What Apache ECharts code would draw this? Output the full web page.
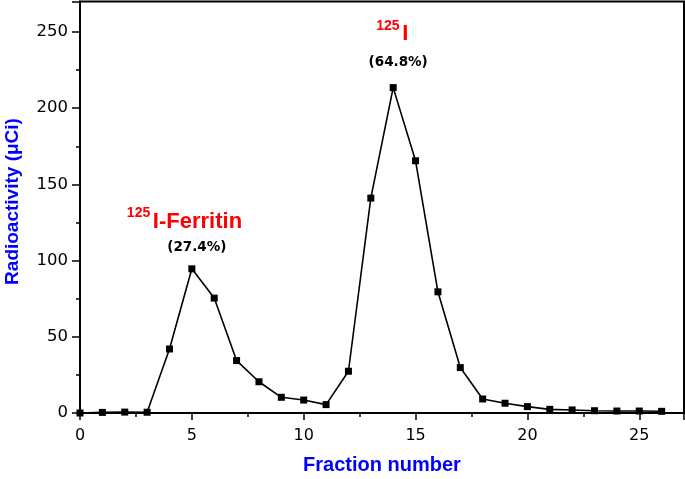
<!DOCTYPE html>
<html><head><meta charset="utf-8">
<script src="https://cdn.jsdelivr.net/npm/echarts@6/dist/echarts.min.js"></script>
<style>html,body{margin:0;padding:0;background:#fff}#c{width:685px;height:479px}</style>
</head><body><div id="c"></div>
<script>
const fractions = [0,1,2,3,4,5,6,7,8,9,10,11,12,13,14,15,16,17,18,19,20,21,22,23,24,25,26];
const radioactivity = [0,0.4,0.6,0.5,42,94.6,75.4,34.4,20.5,10.3,8.5,5.5,27.4,141,213.5,165.5,79.5,29.8,9.2,6.4,4.2,2.4,2,1.5,1.3,1.3,1.1];
const xTicks = [0,5,10,15,20,25];
const yTicks = [0,50,100,150,200,250];
const xTitle = 'Fraction number';
const yTitle = 'Radioactivity (μCi)';
const peakIso = ['125','125'];
const peakNames = ['I-Ferritin','I'];
const peakPcts = ['(27.4%)','(64.8%)'];
const peakFractions = [5,14];

const chart = echarts.init(document.getElementById('c'));
const F = 'Liberation Sans, Arial, sans-serif';
const D = 'DejaVu Sans, sans-serif';
const opt = {
  animation:false,
  grid:{left:80,right:1,top:1.5,bottom:66,show:true,borderColor:'#000',borderWidth:2,containLabel:false,outerBoundsMode:'none'},
  xAxis:{type:'value',min:0,max:27,interval:5,
    name:xTitle,nameLocation:'middle',nameGap:42,
    nameTextStyle:{color:'#0000ff',fontWeight:'bold',fontSize:20,fontFamily:F},
    axisLine:{onZero:false,lineStyle:{color:'#000',width:2}},
    axisTick:{show:true,inside:false,length:7,lineStyle:{color:'#000',width:1.5}},
    minorTick:{show:true,splitNumber:2,length:4,lineStyle:{color:'#000',width:1.5}},
    axisLabel:{color:'#000',fontSize:16,fontFamily:D,margin:15,
      formatter:v=>xTicks.includes(v)?String(v):''},
    splitLine:{show:false}},
  yAxis:{type:'value',min:0,max:270,interval:50,
    axisLine:{onZero:false,lineStyle:{color:'#000',width:2}},
    axisTick:{show:true,inside:false,length:8,lineStyle:{color:'#000',width:1.5}},
    minorTick:{show:true,splitNumber:2,length:4,lineStyle:{color:'#000',width:1.5}},
    axisLabel:{color:'#000',fontSize:16.5,fontFamily:D,margin:12,
      formatter:v=>yTicks.includes(v)?String(v):''},
    splitLine:{show:false}},
  series:[{type:'line',data:fractions.map((f,i)=>[f,radioactivity[i]]),
    symbol:'rect',symbolSize:7,showAllSymbol:true,
    lineStyle:{color:'#000',width:1.6},itemStyle:{color:'#000'}}]
};
chart.setOption(opt);

// annotation offsets relative to each peak's pixel position
const offs = [
  {iso:[-65,-56], name:[-39,-47], pct:[5,-21]},
  {iso:[-17,-61], name:[9,-54], pct:[5,-25.5]}
];
const g = [{type:'text',x:13,y:201.5,rotation:Math.PI/2,
  style:{text:yTitle,fill:'#0000ff',font:'bold 19px '+F,textAlign:'center',textVerticalAlign:'middle'}}];
peakFractions.forEach((f,i)=>{
  const idx = fractions.indexOf(f);
  const p = chart.convertToPixel({gridIndex:0},[f,radioactivity[idx]]);
  const o = offs[i];
  g.push({type:'text',x:p[0]+o.iso[0],y:p[1]+o.iso[1],
    style:{text:peakIso[i],fill:'#ff0000',font:'bold 14px '+F,textAlign:'left',textVerticalAlign:'middle'}});
  g.push({type:'text',x:p[0]+o.name[0],y:p[1]+o.name[1],
    style:{text:peakNames[i],fill:'#ff0000',font:'bold 22px '+F,textAlign:'left',textVerticalAlign:'middle'}});
  g.push({type:'text',x:p[0]+o.pct[0],y:p[1]+o.pct[1],
    style:{text:peakPcts[i],fill:'#000',font:'bold 13.5px '+D,textAlign:'center',textVerticalAlign:'middle'}});
});
chart.setOption({graphic:g});
</script></body></html>
